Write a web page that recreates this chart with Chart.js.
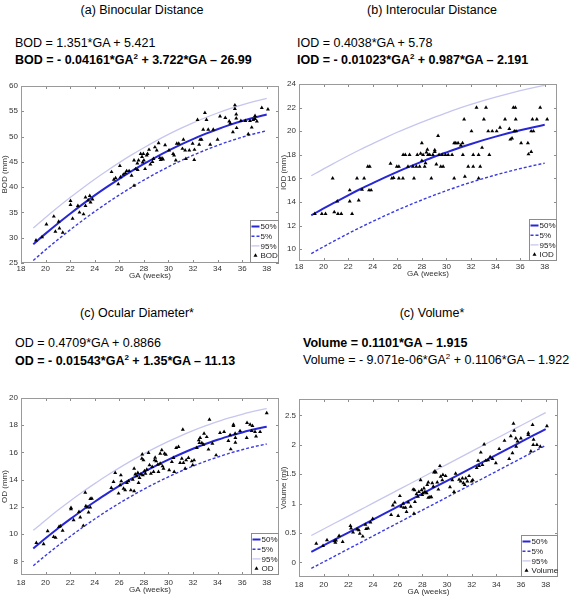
<!DOCTYPE html>
<html><head><meta charset="utf-8">
<script src="https://cdn.jsdelivr.net/npm/chart.js@4/dist/chart.umd.min.js"></script>
<style>
body{margin:0;width:574px;height:600px;background:#fff;position:relative;overflow:hidden;font-family:"Liberation Sans",Arial,sans-serif;color:#000}
.t{position:absolute;font-size:12.5px;white-space:nowrap;line-height:1}
.ctr{transform:translateX(-50%)}
.b{font-weight:bold}
sup{font-size:8px;vertical-align:5px;line-height:0}
canvas{position:absolute}
</style></head><body>
<div class="t ctr" style="left:142px;top:3.5px">(a) Binocular Distance</div>
<div class="t" style="left:15px;top:36.5px">BOD = 1.351*GA + 5.421</div>
<div class="t b" style="left:15px;top:53.5px">BOD = - 0.04161*GA<sup>2</sup> + 3.722*GA – 26.99</div>

<div class="t ctr" style="left:432px;top:3.5px">(b) Interocular Distance</div>
<div class="t" style="left:297px;top:36.5px">IOD = 0.4038*GA + 5.78</div>
<div class="t b" style="left:297px;top:53.5px">IOD = - 0.01023*GA<sup>2</sup> + 0.987*GA – 2.191</div>

<div class="t ctr" style="left:137px;top:306.5px">(c) Ocular Diameter*</div>
<div class="t" style="left:15px;top:336.5px">OD = 0.4709*GA + 0.8866</div>
<div class="t b" style="left:15px;top:354.5px">OD = - 0.01543*GA<sup>2</sup> + 1.35*GA – 11.13</div>

<div class="t ctr" style="left:432px;top:306.5px">(c) Volume*</div>
<div class="t b" style="left:303px;top:336.5px">Volume = 0.1101*GA – 1.915</div>
<div class="t" style="left:303px;top:353.5px">Volume = - 9.071e-06*GA<sup>2</sup> + 0.1106*GA – 1.922</div>

<canvas id="cA" width="290" height="205" style="left:0px;top:76px"></canvas>
<canvas id="cB" width="295" height="205" style="left:279px;top:74px"></canvas>
<canvas id="cC" width="290" height="207" style="left:0px;top:388px"></canvas>
<canvas id="cD" width="295" height="208" style="left:279px;top:389px"></canvas>

<script>
// ---- tick labels ----
const gaTicks = [18,20,22,24,26,28,30,32,34,36,38];
const bodTicks = [25,30,35,40,45,50,55,60];
const iodTicks = [10,12,14,16,18,20,22,24];
const odTicks = [8,10,12,14,16,18,20];
const volTicks = [0,0.5,1,1.5,2,2.5];

// ---- percentile curves (read at each week) ----
const curveGA = [19,20,21,22,23,24,25,26,27,28,29,30,31,32,33,34,35,36,37,38];
const bodP50 = [28.71,30.81,32.82,34.75,36.60,38.37,40.05,41.65,43.17,44.60,45.95,47.22,48.41,49.51,50.52,51.46,52.31,53.08,53.76,54.36];
const bodP95 = [31.91,34.01,36.02,37.95,39.80,41.57,43.25,44.85,46.37,47.80,49.15,50.42,51.61,52.71,53.72,54.66,55.51,56.28,56.96,57.56];
const bodP5  = [25.51,27.61,29.62,31.55,33.40,35.17,36.85,38.45,39.97,41.40,42.75,44.02,45.21,46.31,47.32,48.26,49.11,49.88,50.56,51.16];
const iodP50 = [12.87,13.46,14.02,14.57,15.10,15.60,16.09,16.56,17.00,17.42,17.83,18.21,18.58,18.92,19.24,19.54,19.82,20.08,20.32,20.54];
const iodP95 = [16.22,16.81,17.37,17.92,18.45,18.95,19.44,19.91,20.35,20.77,21.18,21.56,21.93,22.27,22.59,22.89,23.17,23.43,23.67,23.89];
const iodP5  = [9.62,10.21,10.77,11.32,11.85,12.35,12.84,13.31,13.75,14.17,14.58,14.96,15.33,15.67,15.99,16.29,16.57,16.83,17.07,17.29];
const odP50 = [8.95,9.70,10.42,11.10,11.76,12.38,12.98,13.54,14.07,14.57,15.04,15.48,15.89,16.27,16.62,16.93,17.22,17.47,17.70,17.89];
const odP95 = [10.28,11.03,11.75,12.43,13.09,13.71,14.31,14.87,15.40,15.90,16.37,16.81,17.22,17.60,17.95,18.26,18.55,18.80,19.03,19.22];
const odP5  = [7.68,8.43,9.15,9.83,10.49,11.11,11.71,12.27,12.80,13.30,13.77,14.21,14.62,15.00,15.35,15.66,15.95,16.20,16.43,16.62];
const volP50 = [0.177,0.287,0.397,0.507,0.617,0.727,0.838,0.948,1.058,1.168,1.278,1.388,1.498,1.608,1.718,1.828,1.939,2.049,2.159,2.269];
const volP95 = [0.457,0.567,0.677,0.787,0.897,1.007,1.118,1.228,1.338,1.448,1.558,1.668,1.778,1.888,1.998,2.108,2.219,2.329,2.439,2.549];
const volP5  = [-0.103,0.007,0.117,0.227,0.337,0.447,0.558,0.668,0.778,0.888,0.998,1.108,1.218,1.328,1.438,1.548,1.659,1.769,1.879,1.989];

// ---- measurements ----
const bodGA = [19.22,19.71,20.07,20.67,20.8,21.07,21.13,21.4,22.03,22.03,22.2,22.63,22.76,23.09,23.25,23.25,23.47,23.6,23.66,23.82,25.37,25.56,25.7,25.92,26.05,26.1,26.33,26.5,26.6,26.8,27.0,27.2,27.2,27.33,27.47,27.5,27.57,27.74,27.85,27.9,27.96,28.0,28.1,28.23,28.3,28.42,28.53,28.7,28.78,28.9,29.05,29.2,29.3,29.37,29.48,29.56,29.73,30.05,30.38,30.46,30.6,30.68,30.84,31.14,31.22,31.36,31.42,31.7,31.97,32.1,32.12,32.37,32.5,32.58,32.7,32.83,32.97,33.1,33.24,33.4,33.65,34.0,34.2,34.63,34.95,35.03,35.25,35.41,35.41,35.52,35.52,35.55,35.9,36.26,36.5,36.64,36.78,36.9,37.05,37.05,37.2,37.6,38.1];
const bodVal = [29.47,30.13,32.65,34.2,31.2,33.2,31.85,31.0,37.3,36.5,33.8,36.3,35.0,34.65,36.3,38.0,37.4,38.3,37.0,37.6,43.0,41.5,41.8,40.6,44.2,42.0,42.5,42.8,43.2,43.2,42.3,40.3,45.3,43.6,44.7,43.4,45.3,46.6,46.0,44.9,46.6,45.3,43.6,46.3,46.6,47.4,44.5,45.0,45.6,47.9,47.3,48.7,45.8,45.4,45.7,45.5,48.3,47.3,46.6,46.3,45.3,48.6,48.6,47.6,49.4,47.3,45.6,47.3,48.6,45.4,47.4,53.3,48.4,49.4,49.4,51.4,54.7,53.3,51.4,48.4,51.4,49.4,54.0,53.7,53.0,52.6,50.9,56.2,55.5,54.4,53.6,51.7,53.1,53.1,50.5,53.1,51.8,53.3,54.1,53.5,53.0,55.7,55.4];

const iodGA = [19.29,19.86,20.16,20.74,20.87,21.12,21.17,21.44,22.13,22.13,22.32,22.72,22.86,23.13,23.3,23.6,23.76,23.7,23.87,25.45,25.56,25.7,25.96,26.13,26.13,26.46,26.48,26.65,26.87,27.0,27.27,27.36,27.55,27.63,27.82,27.9,28.0,28.0,28.1,28.23,28.3,28.37,28.45,28.5,28.64,28.77,28.9,29.05,29.05,29.18,29.32,29.4,29.54,29.73,29.65,29.92,30.14,30.46,30.63,30.63,30.76,30.95,31.17,31.31,31.34,31.44,31.5,31.77,32.04,32.18,32.18,32.45,32.62,32.62,32.75,32.9,33.05,33.22,33.4,33.49,33.73,34.09,34.36,34.77,35.12,35.2,35.34,35.45,35.61,35.53,35.67,35.64,36.08,36.63,36.68,36.9,36.9,37.08,37.0,37.36,37.63,38.2];
const iodVal = [13.0,13.0,13.0,16.0,13.15,14.06,13.0,13.0,15.0,14.06,13.0,16.0,14.15,15.05,16.0,17.0,17.0,15.0,15.0,17.25,16.0,16.05,17.0,17.0,16.0,16.0,18.0,18.0,17.0,18.0,17.0,16.0,17.0,18.0,17.0,18.1,19.0,17.5,18.0,17.0,17.3,18.2,18.45,18.0,18.0,16.0,18.0,18.4,18.25,17.2,19.6,18.0,17.0,17.0,18.0,18.0,18.0,18.0,16.0,19.0,19.0,19.0,18.8,19.0,18.0,21.0,16.15,17.0,20.0,18.0,17.0,22.0,16.0,18.0,17.0,18.6,21.0,22.0,20.0,18.0,20.0,20.0,20.3,21.0,20.2,19.3,19.4,22.0,22.0,20.0,20.0,21.0,19.0,19.0,18.05,18.25,20.0,20.0,21.0,21.0,22.0,21.0];

const odGA = [19.25,19.84,20.17,20.66,20.82,21.09,21.2,21.39,22.07,22.07,22.28,22.72,22.82,23.07,23.23,23.28,23.42,23.5,23.64,23.77,23.64,25.35,25.53,25.67,25.94,26.07,26.13,26.16,26.35,26.48,26.62,26.75,26.94,27.1,27.21,27.21,27.3,27.43,27.57,27.51,27.65,27.76,27.84,27.87,27.97,27.92,28.05,28.13,28.24,28.38,28.46,28.57,28.68,28.79,28.87,28.92,29.0,29.14,29.19,29.33,29.33,29.46,29.52,29.6,29.68,29.79,30.06,30.28,30.41,30.47,30.63,30.82,30.95,31.09,31.17,31.22,31.36,31.44,31.63,31.9,31.98,32.09,32.31,32.47,32.52,32.58,32.72,32.85,32.9,33.12,33.26,33.34,33.58,33.88,34.2,34.53,34.88,35.07,35.02,35.29,35.29,35.43,35.45,35.45,35.83,36.37,36.4,36.65,36.78,36.84,37.05,37.13,37.46,38.0];
const odVal = [9.37,9.27,10.22,9.81,9.74,10.54,10.6,10.27,11.84,11.93,11.03,11.64,11.23,10.62,13.06,12.06,11.96,11.6,12.6,12.62,11.96,13.4,13.84,14.5,12.99,13.6,14.33,13.89,13.35,13.23,13.77,13.89,13.23,14.0,14.82,13.16,14.4,14.26,13.77,14.5,14.14,14.4,15.55,15.87,15.43,14.33,14.63,14.45,14.75,15.97,15.07,14.45,14.94,14.58,15.43,15.63,15.36,15.11,14.58,15.92,15.19,16.17,14.99,14.82,15.92,15.85,14.7,15.31,15.6,14.58,16.34,16.41,15.24,15.55,17.68,15.24,14.82,15.43,15.6,15.36,15.07,15.43,16.34,16.9,16.7,17.07,16.7,16.58,17.39,17.14,16.22,18.42,16.66,15.8,17.44,17.51,16.85,16.24,17.27,18.05,17.95,17.39,17.07,16.73,17.58,17.07,18.17,18.05,17.58,17.95,17.51,17.19,17.51,18.9];

const volGA = [19.4,19.95,20.27,20.87,20.95,21.0,21.25,21.54,22.17,22.22,22.38,22.71,22.85,22.93,23.17,23.39,23.44,23.6,23.79,23.98,25.47,25.61,25.77,26.04,26.18,26.29,26.45,26.5,26.64,26.72,26.86,27.05,27.26,27.37,27.32,27.4,27.53,27.64,27.72,27.86,27.94,27.99,28.05,28.13,28.21,28.35,28.4,28.48,28.48,28.62,28.73,28.8,28.89,28.94,29.02,29.1,29.21,29.3,29.43,29.49,29.62,29.67,29.89,30.24,30.43,30.57,30.7,30.98,31.11,31.25,31.33,31.44,31.52,31.65,31.79,32.0,32.09,32.41,32.52,32.6,32.74,32.87,33.01,33.14,33.33,33.5,33.69,33.96,34.23,34.66,35.04,35.17,35.31,35.39,35.45,35.58,35.61,35.72,35.99,36.59,36.59,36.8,36.94,36.99,37.02,37.29,37.56,38.1];
const volVal = [0.32,0.28,0.38,0.36,0.335,0.375,0.45,0.35,0.62,0.58,0.51,0.56,0.55,0.49,0.44,0.64,0.57,0.58,0.68,0.74,0.81,0.97,1.02,0.79,1.13,0.95,1.0,0.93,0.93,0.86,1.02,0.95,1.24,1.23,0.83,1.03,1.16,1.12,1.2,1.4,1.23,1.15,1.18,1.26,1.2,1.18,1.32,1.36,1.1,1.11,1.11,1.35,1.29,1.53,1.55,1.53,1.36,1.24,1.64,1.46,1.4,1.49,1.47,1.28,1.4,1.2,1.51,1.41,1.38,1.43,1.35,1.32,1.43,1.38,1.47,1.38,1.4,1.61,1.73,1.64,1.87,1.66,2.01,1.73,1.74,1.79,1.76,1.69,1.93,2.07,1.76,2.15,1.86,2.36,2.24,2.11,1.97,2.06,2.11,2.2,2.17,1.89,2.34,2.0,2.09,2.0,1.97,2.32];

const FONT = '"Liberation Sans", Arial, sans-serif';
const C50 = '#2727d6', C5 = '#3a3ae2', C95 = '#c6c6ef';

const framePlugin = {
  id: 'frame',
  afterDatasetsDraw(chart) {
    const ctx = chart.ctx, a = chart.chartArea;
    const xs = chart.scales.x, ys = chart.scales.y;
    ctx.save();
    ctx.strokeStyle = '#8c8c8c'; ctx.lineWidth = 1;
    ctx.beginPath();
    xs.ticks.forEach(t => {
      const px = Math.round(xs.getPixelForValue(t.value)) + 0.5;
      ctx.moveTo(px, a.bottom); ctx.lineTo(px, a.bottom - 3);
      ctx.moveTo(px, a.top); ctx.lineTo(px, a.top + 3);
    });
    ys.ticks.forEach(t => {
      const py = Math.round(ys.getPixelForValue(t.value)) + 0.5;
      ctx.moveTo(a.left, py); ctx.lineTo(a.left + 3, py);
      ctx.moveTo(a.right, py); ctx.lineTo(a.right - 3, py);
    });
    ctx.stroke();
    ctx.strokeStyle = '#9a9a9a';
    ctx.strokeRect(Math.round(a.left) + 0.5, Math.round(a.top) + 0.5, Math.round(a.right - a.left) - 1, Math.round(a.bottom - a.top) - 1);
    ctx.restore();
  }
};

const legendPlugin = {
  id: 'boxLegend',
  afterDraw(chart, args, o) {
    const ctx = chart.ctx, a = chart.chartArea;
    const w = o.w, h = o.h;
    const x0 = Math.round(a.right) - w, y0 = Math.round(a.bottom) - h;
    const ds = chart.data.datasets;
    ctx.save();
    ctx.fillStyle = '#fff'; ctx.fillRect(x0, y0, w, h);
    ctx.strokeStyle = '#8c8c8c'; ctx.lineWidth = 1;
    ctx.strokeRect(x0 + 0.5, y0 + 0.5, w - 1, h - 1);
    ctx.font = '8px ' + FONT; ctx.textBaseline = 'middle'; ctx.textAlign = 'left';
    [1, 2, 3, 0].forEach((di, i) => {
      const d = ds[di];
      const yy = y0 + 6.5 + i * 9.7;
      if (di === 0) {
        const cx = x0 + 5.5, r = 2.3;
        ctx.fillStyle = '#000';
        ctx.beginPath();
        ctx.moveTo(cx, yy - r); ctx.lineTo(cx + r * 0.866, yy + r * 0.5); ctx.lineTo(cx - r * 0.866, yy + r * 0.5);
        ctx.closePath(); ctx.fill();
      } else {
        ctx.strokeStyle = d.borderColor; ctx.lineWidth = d.borderWidth;
        ctx.setLineDash(d.borderDash || []);
        ctx.beginPath(); ctx.moveTo(x0 + 1.5, yy); ctx.lineTo(x0 + 9.5, yy); ctx.stroke();
        ctx.setLineDash([]);
      }
      ctx.fillStyle = '#222';
      ctx.fillText(d.label, x0 + 10.5, yy + 0.5);
    });
    ctx.restore();
  }
};

function pts(xs, ys) { return xs.map((x, i) => ({ x: x, y: ys[i] })); }

function makeChart(id, cfg) {
  return new Chart(document.getElementById(id), {
    type: 'scatter',
    data: {
      datasets: [
        { label: cfg.name, data: pts(cfg.ga, cfg.val), pointStyle: 'triangle', pointRadius: 2.3, pointBackgroundColor: '#000', pointBorderWidth: 0, backgroundColor: '#000', borderColor: '#000', order: 0 },
        { label: '50%', data: pts(curveGA, cfg.p50), showLine: true, pointRadius: 0, borderColor: C50, borderWidth: 2, cubicInterpolationMode: 'monotone', order: 1 },
        { label: '5%', data: pts(curveGA, cfg.p5), showLine: true, pointRadius: 0, borderColor: C5, borderWidth: 1.4, borderDash: [3, 2], cubicInterpolationMode: 'monotone', order: 2 },
        { label: '95%', data: pts(curveGA, cfg.p95), showLine: true, pointRadius: 0, borderColor: C95, borderWidth: 1.3, cubicInterpolationMode: 'monotone', order: 3 }
      ]
    },
    options: {
      responsive: false, animation: false, devicePixelRatio: 1,
      layout: { padding: { top: cfg.T, right: cfg.R, left: 0, bottom: 0 } },
      plugins: { legend: { display: false }, tooltip: { enabled: false }, boxLegend: { w: cfg.lw, h: cfg.lh } },
      scales: {
        x: {
          type: 'linear', min: 18, max: 39,
          afterBuildTicks: s => { s.ticks = gaTicks.map(v => ({ value: v })); },
          afterFit: s => { s.height = cfg.H; },
          grid: { display: false, drawTicks: false }, border: { display: false },
          ticks: { font: { size: 8, family: FONT }, color: '#333', padding: cfg.xp, maxRotation: 0, autoSkip: false, callback: v => String(v) },
          title: { display: true, text: 'GA (weeks)', font: { size: 8, family: FONT }, color: '#333', padding: 0 }
        },
        y: {
          type: 'linear', min: cfg.ymin, max: cfg.ymax,
          afterBuildTicks: s => { s.ticks = cfg.yt.map(v => ({ value: v })); },
          afterFit: s => { s.width = cfg.W; },
          grid: { display: false, drawTicks: false }, border: { display: false },
          ticks: { font: { size: 8, family: FONT }, color: '#333', padding: 3, autoSkip: false, callback: v => String(v) },
          title: { display: true, text: cfg.ytitle, font: { size: 8, family: FONT }, color: '#333', padding: 0 }
        }
      }
    },
    plugins: [framePlugin, legendPlugin]
  });
}

makeChart('cA', { name: 'BOD', ga: bodGA, val: bodVal, p50: bodP50, p5: bodP5, p95: bodP95, ymin: 25, ymax: 60, yt: bodTicks, ytitle: 'BOD (mm)', T: 10, R: 11, W: 21, H: 18, xp: 1, lw: 29, lh: 43 });
makeChart('cB', { name: 'IOD', ga: iodGA, val: iodVal, p50: iodP50, p5: iodP5, p95: iodP95, ymin: 9, ymax: 24, yt: iodTicks, ytitle: 'IOD (mm)', T: 10, R: 17, W: 20, H: 18, xp: 1, lw: 28, lh: 42 });
makeChart('cC', { name: 'OD', ga: odGA, val: odVal, p50: odP50, p5: odP5, p95: odP95, ymin: 7, ymax: 20, yt: odTicks, ytitle: 'OD (mm)', T: 10, R: 11, W: 21, H: 20, xp: 3, lw: 28, lh: 42 });
makeChart('cD', { name: 'Volume', ga: volGA, val: volVal, p50: volP50, p5: volP5, p95: volP95, ymin: -0.25, ymax: 2.78, yt: volTicks, ytitle: 'Volume (ml)', T: 10, R: 16, W: 20, H: 20, xp: 3, lw: 37, lh: 42 });
</script>
</body></html>
